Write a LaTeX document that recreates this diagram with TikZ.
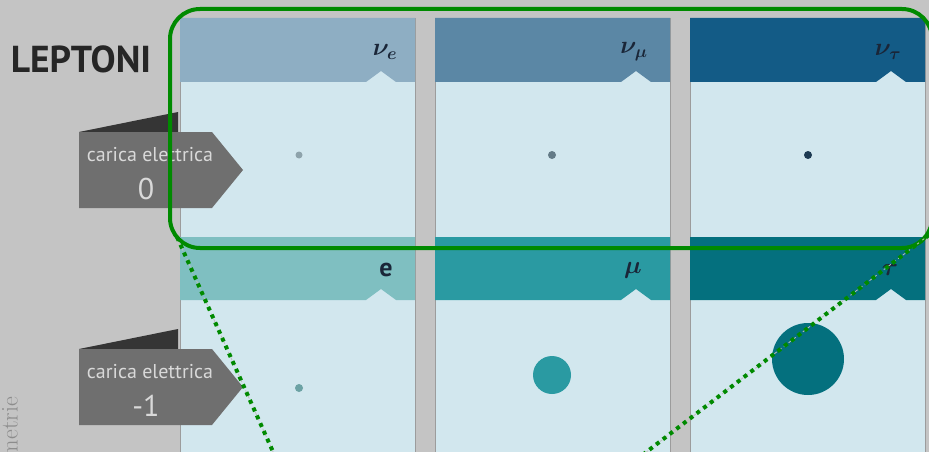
\documentclass[tikz,border=0pt]{standalone}
\usepackage{amsmath}
\usepackage{bm}
\usepackage{fontspec}
\newfontfamily\tagfont{PT Sans}
\usepackage{tikz}
\usetikzlibrary{arrows.meta}

\definecolor{sfondo}{HTML}{C4C4C4}
\definecolor{corpo}{HTML}{D2E7EE}
\definecolor{bordo}{HTML}{9C9C9C}
\definecolor{testaA}{HTML}{8EAEC3}
\definecolor{testaB}{HTML}{5B87A5}
\definecolor{testaC}{HTML}{135B86}
\definecolor{testaD}{HTML}{7FBFC1}
\definecolor{testaE}{HTML}{2A9AA2}
\definecolor{testaF}{HTML}{04707E}
\definecolor{puntoA}{HTML}{8EA3AB}
\definecolor{puntoB}{HTML}{647B87}
\definecolor{puntoC}{HTML}{1D3A52}
\definecolor{etichetta}{HTML}{6F6F6F}
\definecolor{piega}{HTML}{353535}
\definecolor{inchiostro}{HTML}{1A2638}
\definecolor{verde}{HTML}{008A00}

\begin{document}
\begin{tikzpicture}[
    x=1pt, y=-1pt,
    scheda/.style={fill=corpo, draw=bordo, line width=0.8pt},
    nome/.style={text=inchiostro, inner sep=0pt},
    carica/.style={text=white!85!black, inner sep=0pt, align=center}
]

    % Sfondo
    \path[use as bounding box, fill=sfondo] (0,0) rectangle (929,452);
    \clip (0,0) rectangle (929,452);

    % Schede
    \foreach \i/\testa/\testb in {0/testaA/testaD, 1/testaB/testaE, 2/testaC/testaF} {
        \pgfmathsetmacro{\xa}{180+255*\i}
        \pgfmathsetmacro{\xb}{\xa+235}
        \pgfmathsetmacro{\xn}{\xb-34}
        \draw[scheda] (\xa,18) rectangle (\xb,470);
        \fill[\testa]
            (\xa,18) -- (\xb,18) -- (\xb,82) -- (\xn+15,82)
            -- (\xn,71) -- (\xn-15,82) -- (\xa,82) -- cycle;
        \fill[\testb]
            (\xa,237) -- (\xb,237) -- (\xb,300) -- (\xn+15,300)
            -- (\xn,289) -- (\xn-15,300) -- (\xa,300) -- cycle;
    }

    % Particelle
    \fill[puntoA] (299,155) circle (3.5);
    \fill[puntoB] (552,155) circle (4);
    \fill[puntoC] (808,155) circle (4);
    \fill[testaD!85!black] (299,388) circle (4);
    \fill[testaE] (552,375) circle (19);
    \fill[testaF] (808,359) circle (36);

    % Nomi
    \node[nome, font=\fontsize{24}{26}\selectfont] (nue) at (385,52) {$\bm{\nu_e}$};
    \node[nome, font=\fontsize{24}{26}\selectfont] (numu) at (634,52) {$\bm{\nu_\mu}$};
    \node[nome, font=\fontsize{24}{26}\selectfont] (nutau) at (888,52) {$\bm{\nu_\tau}$};
    \node[nome, font=\tagfont\bfseries\fontsize{26}{28}\selectfont] (ele) at (386,270) {e};
    \node[nome, font=\fontsize{24}{26}\selectfont] (muo) at (633,270) {$\bm{\mu}$};
    \node[nome, font=\fontsize{24}{26}\selectfont] (tau) at (890,270) {$\bm{\tau}$};

    % Titolo
    \node[
        text=black!85,
        font=\tagfont\bfseries\fontsize{37.5}{40}\selectfont,
        inner sep=0pt
    ] (leptoni) at (81,59) {LEPTONI};

    % Cartellini della carica
    \foreach \dy/\q/\nm in {0/0/zero, 217/-1/meno} {
        \fill[piega] (79,132+\dy) -- (178,112+\dy) -- (178,132+\dy) -- cycle;
        \fill[etichetta]
            (79,132+\dy) -- (212,132+\dy) -- (243,170+\dy)
            -- (212,208+\dy) -- (79,208+\dy) -- cycle;
        \node[carica, font=\tagfont\fontsize{20}{22}\selectfont] (car\nm) at (150,155+\dy) {carica elettrica};
        \node[carica, font=\tagfont\fontsize{30}{32}\selectfont] (val\nm) at (146,189+\dy) {\q};
    }

    % Scritta laterale
    \node[
        rotate=90,
        anchor=east,
        text=black!45,
        font=\fontsize{24}{26}\selectfont,
        inner sep=0pt
    ] (laterale) at (10,397) {metrie};

    % Riquadro verde
    \draw[
        verde,
        line width=4pt,
        rounded corners=30pt
    ] (170,9) rectangle (932,248);

    % Linee di richiamo
    \coordinate (angoloA) at (177,237);
    \coordinate (angoloB) at (929,235);
    \coordinate (fondoA) at (287,483);
    \coordinate (fondoB) at (606,483);
    \draw[white!75!black, line width=0.8pt, dashed] (angoloA) -- (fondoA);
    \draw[white!75!black, line width=0.8pt, dashed] (angoloB) -- (fondoB);
    \draw[
        verde,
        line width=4pt,
        dash pattern=on 4pt off 4.5pt
    ] (angoloA) -- (fondoA);
    \draw[
        verde,
        line width=4pt,
        dash pattern=on 4pt off 4.5pt
    ] (angoloB) -- (fondoB);

\end{tikzpicture}
\end{document}
